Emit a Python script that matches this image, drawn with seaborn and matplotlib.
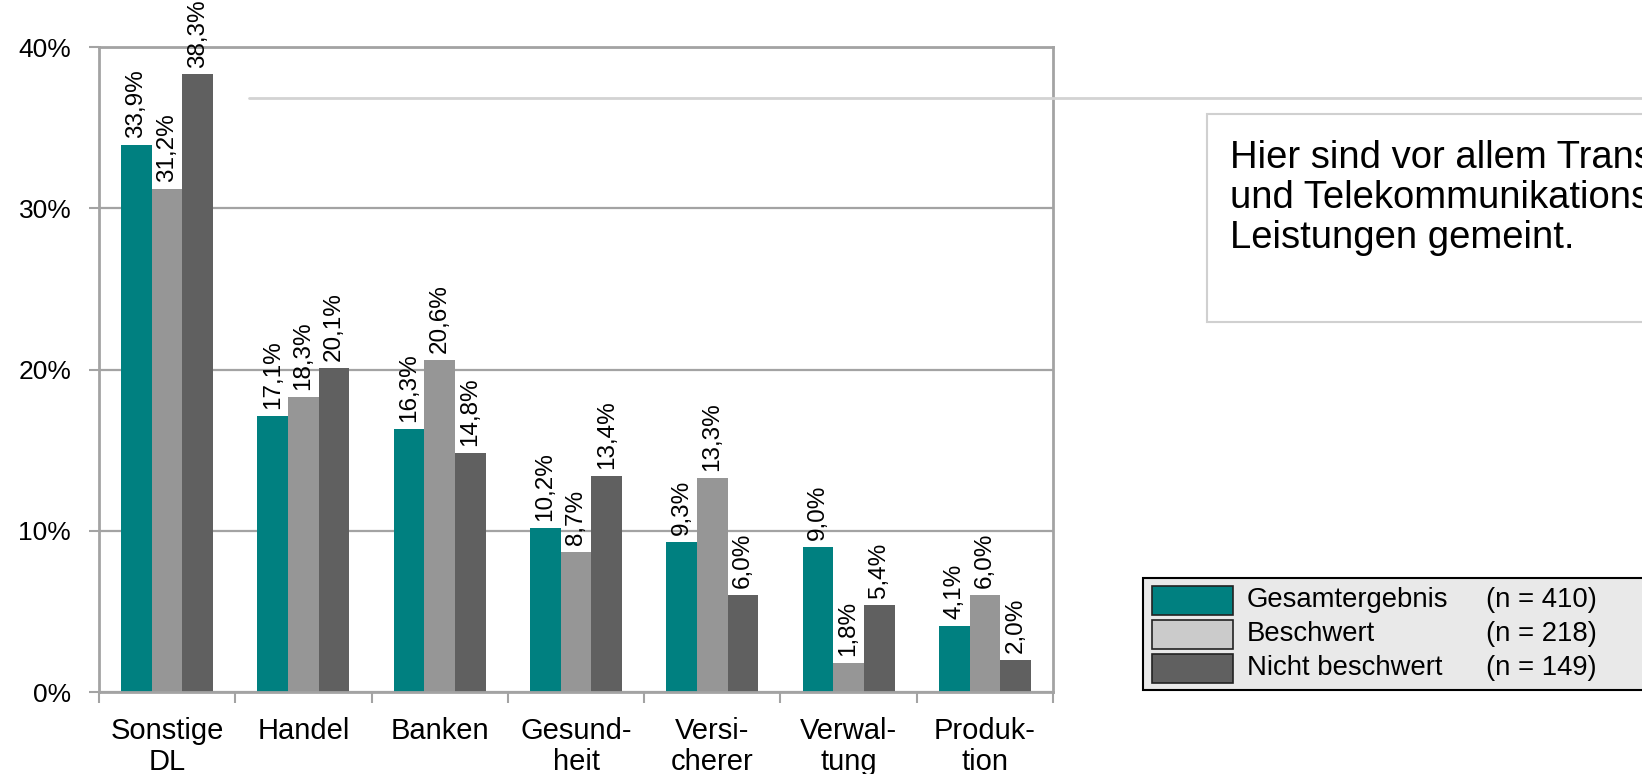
import numpy as np
import pandas as pd
import matplotlib
matplotlib.use("Agg")
import matplotlib.pyplot as plt
from matplotlib.patches import Rectangle
from matplotlib.lines import Line2D
from matplotlib.ticker import FixedLocator
import seaborn as sns

# Branchen (x-axis categories) and the three groups compared
categories = ["Sonstige\nDL", "Handel", "Banken", "Gesund-\nheit",
              "Versi-\ncherer", "Verwal-\ntung", "Produk-\ntion"]
groups = ["Gesamtergebnis", "Beschwert", "Nicht beschwert"]
group_n = ["(n = 410)", "(n = 218)", "(n = 149)"]

# Shares in percent per branch
gesamt = [33.9, 17.1, 16.3, 10.2, 9.3, 9.0, 4.1]
beschwert = [31.2, 18.3, 20.6, 8.7, 13.3, 1.8, 6.0]
nicht_beschwert = [38.3, 20.1, 14.8, 13.4, 6.0, 5.4, 2.0]

y_ticks = [0, 10, 20, 30, 40]
y_tick_labels = ["0%", "10%", "20%", "30%", "40%"]

note_lines = ["Hier sind vor allem Transport-",
              "und Telekommunikations-",
              "Leistungen gemeint."]

bar_colors = ["#008080", "#969696", "#606060"]
legend_colors = ["#008080", "#cbcbcb", "#606060"]
axis_gray = "#a3a3a3"

sns.set_theme(style="white")
plt.rcParams["font.family"] = ["Liberation Sans", "DejaVu Sans"]

df = pd.DataFrame({
    "Branche": categories * 3,
    "Gruppe": np.repeat(groups, len(categories)),
    "Anteil": gesamt + beschwert + nicht_beschwert,
})

fig = plt.figure(figsize=(16.42, 7.74), dpi=100)
ax = fig.add_axes([0.0603, 0.1059, 0.5810, 0.8333])

sns.barplot(data=df, x="Branche", y="Anteil", hue="Gruppe",
            order=categories, hue_order=groups, palette=bar_colors,
            saturation=1, width=0.675, gap=0, linewidth=0,
            legend=False, errorbar=None, ax=ax)

# value labels, rotated, above each bar
for container, vals in zip(ax.containers, [gesamt, beschwert, nicht_beschwert]):
    labels = [f"{v:.1f}%".replace(".", ",") for v in vals]
    ax.bar_label(container, labels=labels, rotation=90, padding=5,
                 fontsize=17.5, color="black")

ax.set_ylim(0, 40)
ax.set_xlim(-0.5, len(categories) - 0.5)
ax.set_yticks(y_ticks)
ax.set_yticklabels(y_tick_labels, fontsize=19, color="black")
ax.set_xticks(range(len(categories)))
ax.set_xticklabels(categories, fontsize=21, color="black", linespacing=1.15)
ax.xaxis.set_minor_locator(FixedLocator(np.arange(-0.5, len(categories), 1.0)))
ax.tick_params(axis="x", which="major", length=0, pad=18)
ax.tick_params(axis="x", which="minor", length=8, width=1.5, color=axis_gray,
               direction="out", bottom=True)
ax.tick_params(axis="y", which="major", length=7, width=1.5, color=axis_gray,
               direction="out", left=True, pad=13)
ax.set_xlabel("")
ax.set_ylabel("")
ax.yaxis.grid(True, color=axis_gray, linewidth=1.6)
ax.set_axisbelow(True)
for side in ["left", "right", "top", "bottom"]:
    ax.spines[side].set_visible(True)
    ax.spines[side].set_color(axis_gray)
    ax.spines[side].set_linewidth(2)

W, H = 1642.0, 774.0

# connector line to the note box
fig.add_artist(Line2D([249 / W, 1.0], [1 - 98 / H, 1 - 98 / H],
                      transform=fig.transFigure, color="#d3d3d3",
                      linewidth=2, zorder=5))

# note box
fig.add_artist(Rectangle((1207 / W, 1 - 322 / H), 0.3, (322 - 114) / H,
                         transform=fig.transFigure, facecolor="white",
                         edgecolor="#d0d0d0", linewidth=1.5, zorder=4))
for line, yc in zip(note_lines, [158, 198, 238]):
    fig.text(1230 / W, 1 - yc / H, line, fontsize=27.5, color="black",
             va="center", ha="left", zorder=6)

# legend
fig.add_artist(Rectangle((1143 / W, 1 - 690 / H), 0.4, (690 - 578) / H,
                         transform=fig.transFigure, facecolor="#e9e9e9",
                         edgecolor="black", linewidth=1.5, zorder=4))
for color, name, n, yc in zip(legend_colors, groups, group_n, [600, 634, 668]):
    fig.add_artist(Rectangle((1152 / W, 1 - (yc + 14.5) / H), 81 / W, 29 / H,
                             transform=fig.transFigure, facecolor=color,
                             edgecolor="#222222", linewidth=1.2, zorder=5))
    fig.text(1247 / W, 1 - yc / H, name, fontsize=19.8, color="black",
             va="center", ha="left", zorder=6)
    fig.text(1486 / W, 1 - yc / H, n, fontsize=19.8, color="black",
             va="center", ha="left", zorder=6)

fig.savefig("out.png", dpi=100)
